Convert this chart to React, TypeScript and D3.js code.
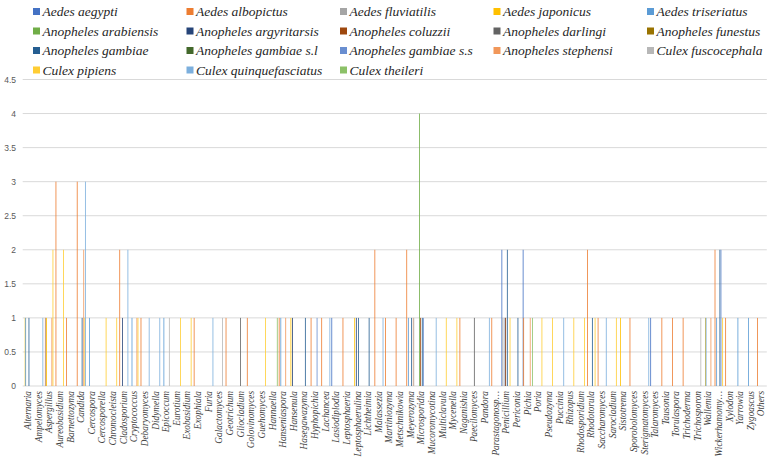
import * as d3 from 'd3';

const W = 771;
const H = 460;
const M = { top: 79.5, right: 4.2, bottom: 74, left: 22.7 };
const SERIF = "'Liberation Serif', 'Times New Roman', 'DejaVu Serif', serif";

const categories = [
  'Alternaria', 'Ampelomyces', 'Aspergillus', 'Aureobasidium', 'Barnettozyma', 'Candida', 'Cercospora', 'Cercosporella', 'Chromocleista', 'Cladosporium',
  'Cryptococcus', 'Debaryomyces', 'Didymella', 'Epicoccum', 'Eurotium', 'Exobasidium', 'Exophiala', 'Furia', 'Galactomyces', 'Geotrichum',
  'Gliocladium', 'Golovinomyces', 'Guehomyces', 'Hannaella', 'Hanseniaspora', 'Hansenula', 'Hasegawazyma', 'Hyphopichia', 'Lachancea', 'Lasiodiplodia',
  'Leptosphaeria', 'Leptosphaerulina', 'Lichtheimia', 'Malassezia', 'Martiniozyma', 'Metschnikowia', 'Meyerozyma', 'Microsporidia', 'Mucoromycotina', 'Multiclavula',
  'Mycenella', 'Naganishia', 'Paecilomyces', 'Pandora', 'Parastagonosp…', 'Penicillium', 'Periconia', 'Pichia', 'Poria', 'Pseudozyma',
  'Puccinia', 'Rhizopus', 'Rhodosporidium', 'Rhodotorula', 'Saccharomyces', 'Sarocladium', 'Sistotrema', 'Sporobolomyces', 'Sterigmatomyces', 'Talaromyces',
  'Tausonia', 'Torulaspora', 'Trichoderma', 'Trichosporon', 'Wallemia', 'Wickerhamomy…', 'Xylodon', 'Yarrowia', 'Zygoascus', 'Others',
];

const species = [
  'Aedes aegypti', 'Aedes albopictus', 'Aedes fluviatilis', 'Aedes japonicus', 'Aedes triseriatus',
  'Anopheles arabiensis', 'Anopheles argyritarsis', 'Anopheles coluzzii', 'Anopheles darlingi', 'Anopheles funestus',
  'Anopheles gambiae', 'Anopheles gambiae s.l', 'Anopheles gambiae s.s', 'Anopheles stephensi', 'Culex fuscocephala',
  'Culex pipiens', 'Culex quinquefasciatus', 'Culex theileri',
];

const colors = [
  '#4472C4', '#ED7D31', '#A5A5A5', '#FFC000', '#5B9BD5',
  '#70AD47', '#264478', '#9E480E', '#636363', '#997300',
  '#255E91', '#43682B', '#698ED0', '#F1975A', '#B7B7B7',
  '#FFCD33', '#7CAFDD', '#8CC168',
];

// one value per genus, same order as categories
const aedesAegypti = [
  0, 0, 0, 0, 0, 0, 0, 0, 0, 0,
  0, 0, 0, 0, 0, 0, 0, 0, 0, 0,
  0, 0, 0, 0, 0, 0, 0, 0, 0, 1,
  0, 0, 0, 0, 0, 0, 0, 0, 0, 0,
  0, 0, 0, 0, 0, 2, 0, 2, 0, 0,
  0, 0, 0, 0, 0, 0, 0, 0, 0, 1,
  0, 0, 0, 0, 0, 0, 0, 0, 0, 0,
];
const aedesAlbopictus = [
  0, 0, 1, 3, 1, 3, 0, 0, 0, 2,
  0, 1, 0, 0, 0, 0, 1, 0, 0, 1,
  0, 1, 0, 0, 1, 0, 0, 1, 1, 0,
  1, 0, 0, 2, 1, 1, 2, 0, 0, 0,
  0, 1, 0, 0, 1, 0, 0, 1, 0, 0,
  0, 0, 0, 2, 1, 0, 0, 1, 0, 0,
  1, 1, 1, 0, 0, 2, 1, 0, 0, 1,
];
const aedesFluviatilis = [
  0, 0, 1, 0, 0, 0, 0, 0, 0, 0,
  0, 0, 0, 0, 0, 0, 0, 0, 0, 0,
  0, 0, 0, 0, 0, 0, 0, 0, 0, 0,
  0, 0, 0, 0, 0, 0, 0, 0, 0, 0,
  0, 0, 0, 0, 0, 1, 0, 0, 0, 0,
  0, 0, 0, 0, 0, 0, 0, 0, 0, 0,
  0, 0, 0, 0, 0, 0, 0, 0, 0, 0,
];
const aedesJaponicus = [
  1, 0, 1, 0, 0, 0, 0, 0, 0, 0,
  0, 0, 0, 0, 0, 0, 0, 0, 0, 0,
  0, 0, 0, 0, 0, 1, 0, 0, 0, 0,
  0, 1, 0, 0, 0, 0, 0, 0, 0, 0,
  0, 0, 0, 0, 0, 0, 0, 0, 0, 0,
  0, 0, 0, 0, 0, 0, 1, 0, 0, 0,
  0, 0, 0, 0, 1, 0, 0, 0, 0, 0,
];
const aedesTriseriatus = [
  1, 0, 0, 0, 0, 0, 1, 0, 0, 0,
  1, 0, 0, 1, 0, 0, 0, 0, 0, 0,
  0, 0, 0, 0, 1, 0, 0, 0, 0, 0,
  0, 0, 0, 0, 0, 0, 1, 0, 0, 0,
  0, 0, 0, 0, 0, 0, 0, 0, 0, 0,
  0, 0, 0, 0, 0, 0, 0, 0, 0, 0,
  0, 0, 0, 0, 1, 1, 0, 1, 1, 0,
];
const anArabiensis = [
  0, 0, 0, 0, 0, 0, 0, 0, 0, 0,
  0, 0, 0, 0, 0, 0, 0, 0, 0, 0,
  0, 0, 0, 0, 0, 0, 0, 0, 0, 0,
  0, 0, 0, 0, 0, 0, 0, 4, 0, 0,
  0, 0, 0, 0, 0, 0, 0, 0, 0, 0,
  0, 0, 0, 0, 0, 0, 0, 0, 0, 0,
  0, 0, 0, 0, 0, 0, 0, 0, 0, 0,
];
const anArgyritarsis = [
  0, 0, 0, 0, 0, 0, 0, 0, 0, 1,
  0, 0, 0, 0, 0, 0, 0, 0, 0, 0,
  0, 0, 0, 0, 0, 1, 0, 0, 0, 0,
  0, 1, 0, 0, 0, 0, 0, 0, 0, 0,
  0, 0, 0, 0, 0, 1, 0, 0, 0, 0,
  0, 0, 0, 0, 0, 0, 0, 0, 0, 0,
  0, 0, 0, 0, 0, 0, 0, 0, 0, 0,
];
const anColuzzii = [
  0, 0, 0, 0, 0, 0, 0, 0, 0, 0,
  0, 0, 0, 0, 0, 0, 0, 0, 0, 0,
  0, 0, 0, 0, 0, 0, 0, 0, 0, 0,
  0, 0, 0, 0, 0, 0, 0, 1, 0, 0,
  0, 0, 0, 0, 0, 1, 0, 0, 0, 0,
  0, 0, 0, 0, 0, 0, 0, 0, 0, 0,
  0, 0, 0, 0, 0, 0, 0, 0, 0, 0,
];
const anDarlingi = [
  0, 0, 0, 0, 0, 0, 0, 0, 0, 0,
  0, 0, 0, 0, 0, 0, 0, 0, 0, 0,
  1, 0, 0, 0, 0, 0, 0, 0, 0, 0,
  0, 0, 0, 0, 0, 0, 0, 0, 0, 0,
  0, 0, 1, 0, 0, 0, 0, 0, 0, 0,
  0, 0, 0, 0, 0, 0, 0, 0, 0, 0,
  0, 0, 0, 0, 0, 0, 0, 0, 0, 0,
];
const anFunestus = [
  0, 0, 0, 0, 0, 0, 0, 0, 0, 0,
  0, 0, 0, 0, 0, 0, 0, 0, 0, 0,
  0, 0, 0, 0, 0, 0, 0, 0, 0, 0,
  0, 0, 0, 0, 0, 0, 0, 0, 0, 0,
  0, 0, 0, 0, 0, 0, 0, 0, 0, 0,
  0, 0, 0, 0, 0, 0, 0, 0, 0, 0,
  0, 0, 0, 0, 0, 0, 0, 0, 0, 0,
];
const anGambiae = [
  1, 0, 0, 0, 0, 1, 0, 0, 0, 0,
  0, 0, 0, 0, 0, 0, 0, 0, 0, 0,
  0, 0, 0, 0, 0, 0, 1, 0, 0, 0,
  0, 1, 1, 0, 0, 0, 1, 1, 0, 0,
  0, 0, 0, 0, 0, 2, 1, 0, 0, 0,
  0, 0, 0, 1, 0, 0, 0, 0, 0, 0,
  0, 0, 0, 0, 0, 2, 0, 0, 0, 0,
];
const anGambiaeSl = [
  0, 0, 0, 0, 0, 0, 0, 0, 0, 0,
  0, 0, 0, 0, 0, 0, 0, 0, 0, 0,
  0, 0, 0, 0, 0, 0, 0, 0, 0, 0,
  0, 0, 0, 0, 0, 0, 0, 0, 0, 0,
  0, 0, 0, 0, 0, 0, 0, 0, 0, 0,
  0, 0, 0, 0, 0, 0, 0, 0, 0, 0,
  0, 0, 0, 0, 0, 0, 0, 0, 0, 0,
];
const anGambiaeSs = [
  0, 0, 0, 0, 0, 0, 0, 0, 0, 0,
  0, 0, 0, 0, 0, 0, 0, 0, 0, 0,
  0, 0, 0, 0, 0, 0, 0, 1, 0, 0,
  0, 0, 0, 0, 0, 0, 0, 1, 0, 0,
  0, 0, 0, 0, 0, 0, 0, 0, 0, 0,
  0, 0, 0, 0, 0, 0, 0, 0, 0, 0,
  0, 0, 0, 0, 0, 2, 0, 0, 0, 0,
];
const anStephensi = [
  0, 0, 1, 0, 0, 2, 0, 0, 0, 0,
  1, 0, 0, 0, 0, 0, 0, 0, 0, 0,
  0, 0, 0, 0, 1, 0, 0, 0, 0, 0,
  0, 0, 0, 0, 0, 0, 1, 0, 0, 0,
  0, 0, 0, 0, 0, 0, 0, 1, 0, 0,
  0, 0, 0, 0, 0, 0, 0, 0, 0, 0,
  0, 0, 0, 0, 1, 0, 0, 0, 0, 0,
];
const cxFuscocephala = [
  0, 0, 0, 0, 0, 0, 0, 0, 0, 0,
  0, 0, 0, 1, 0, 0, 0, 0, 1, 0,
  0, 0, 0, 0, 0, 0, 0, 0, 0, 0,
  0, 0, 0, 0, 0, 0, 1, 0, 0, 0,
  0, 0, 0, 0, 0, 0, 0, 0, 0, 0,
  0, 0, 0, 0, 0, 0, 0, 0, 0, 0,
  0, 0, 0, 1, 0, 0, 0, 0, 0, 0,
];
const cxPipiens = [
  0, 0, 2, 2, 0, 1, 0, 1, 1, 0,
  1, 0, 0, 0, 1, 1, 0, 0, 0, 0,
  0, 0, 1, 0, 0, 0, 0, 0, 0, 0,
  0, 0, 0, 0, 0, 0, 0, 0, 0, 1,
  1, 0, 0, 0, 0, 1, 0, 0, 1, 1,
  0, 1, 1, 1, 0, 1, 0, 0, 0, 0,
  0, 0, 0, 0, 0, 1, 0, 0, 0, 0,
];
const cxQuinquefasciatus = [
  0, 1, 0, 0, 0, 3, 0, 0, 0, 2,
  0, 1, 1, 0, 0, 0, 0, 1, 0, 0,
  0, 0, 0, 0, 0, 0, 0, 0, 1, 0,
  0, 0, 0, 1, 0, 0, 0, 0, 1, 0,
  0, 0, 0, 1, 0, 0, 0, 0, 0, 0,
  1, 0, 0, 0, 1, 0, 0, 0, 1, 0,
  0, 0, 0, 0, 0, 0, 0, 0, 0, 0,
];
const cxTheileri = [
  0, 0, 0, 0, 0, 0, 0, 0, 0, 0,
  0, 0, 0, 0, 0, 0, 0, 0, 0, 0,
  0, 0, 0, 1, 0, 0, 0, 0, 0, 0,
  0, 0, 0, 0, 0, 0, 0, 0, 0, 0,
  0, 0, 0, 0, 0, 0, 0, 1, 0, 0,
  0, 0, 0, 0, 0, 0, 0, 0, 0, 0,
  0, 0, 0, 0, 0, 0, 0, 0, 0, 0,
];

const seriesValues = [
  aedesAegypti, aedesAlbopictus, aedesFluviatilis, aedesJaponicus, aedesTriseriatus,
  anArabiensis, anArgyritarsis, anColuzzii, anDarlingi, anFunestus,
  anGambiae, anGambiaeSl, anGambiaeSs, anStephensi, cxFuscocephala,
  cxPipiens, cxQuinquefasciatus, cxTheileri,
];

const yTicks = [0, 0.5, 1, 1.5, 2, 2.5, 3, 3.5, 4, 4.5];

const legendCols = [33, 186.5, 340, 493.5, 647];
const legendRows = [11.5, 31, 50.5, 70];

export default function App() {
  const x0 = d3.scaleBand<string>().domain(categories).range([M.left, W - M.right]).paddingInner(0).paddingOuter(0);
  const x1 = d3.scaleBand<string>().domain(species).range([0, x0.bandwidth()]).paddingInner(0).paddingOuter(0.75);
  const y = d3.scaleLinear().domain([0, 4.5]).range([H - M.bottom, M.top]);
  const bw = Math.max(x1.bandwidth(), 0.8);

  return (
    <svg width={W} height={H} style={{ position: 'absolute', left: 0, top: 0, background: '#fff' }}>
      {yTicks.map((t) => (
        <g key={t}>
          <line x1={M.left} x2={W - M.right} y1={y(t)} y2={y(t)} stroke="#d9d9d9" strokeWidth={1} />
          <text x={16} y={y(t)} textAnchor="end" dominantBaseline="central" fill="#595959"
            style={{ fontSize: 8.5, fontFamily: "'Liberation Sans', Arial, sans-serif" }}>
            {t}
          </text>
        </g>
      ))}

      {seriesValues.map((vals, s) => (
        <g key={species[s]} fill={colors[s]}>
          {vals.map((v, k) =>
            v > 0 ? (
              <rect
                key={k}
                x={(x0(categories[k]) ?? 0) + (x1(species[s]) ?? 0)}
                y={y(v)}
                width={bw}
                height={y(0) - y(v)}
              />
            ) : null,
          )}
        </g>
      ))}

      {categories.map((c) => (
        <text
          key={c}
          transform={`translate(${(x0(c) ?? 0) + x0.bandwidth() / 2},391) rotate(-90)`}
          textAnchor="end"
          dominantBaseline="central"
          fill="#404040"
          style={{ fontSize: 9.3, fontStyle: 'italic', fontFamily: SERIF }}
        >
          {c}
        </text>
      ))}

      {species.map((sp, i) => {
        const lx = legendCols[i % 5];
        const ly = legendRows[Math.floor(i / 5)];
        return (
          <g key={sp}>
            <rect x={lx} y={ly - 3.5} width={7} height={7} fill={colors[i]} />
            <text
              x={lx + 9.5}
              y={ly}
              dominantBaseline="central"
              fill="#262626"
              style={{ fontSize: 13.5, fontStyle: 'italic', fontFamily: SERIF }}
            >
              {sp}
            </text>
          </g>
        );
      })}
    </svg>
  );
}
